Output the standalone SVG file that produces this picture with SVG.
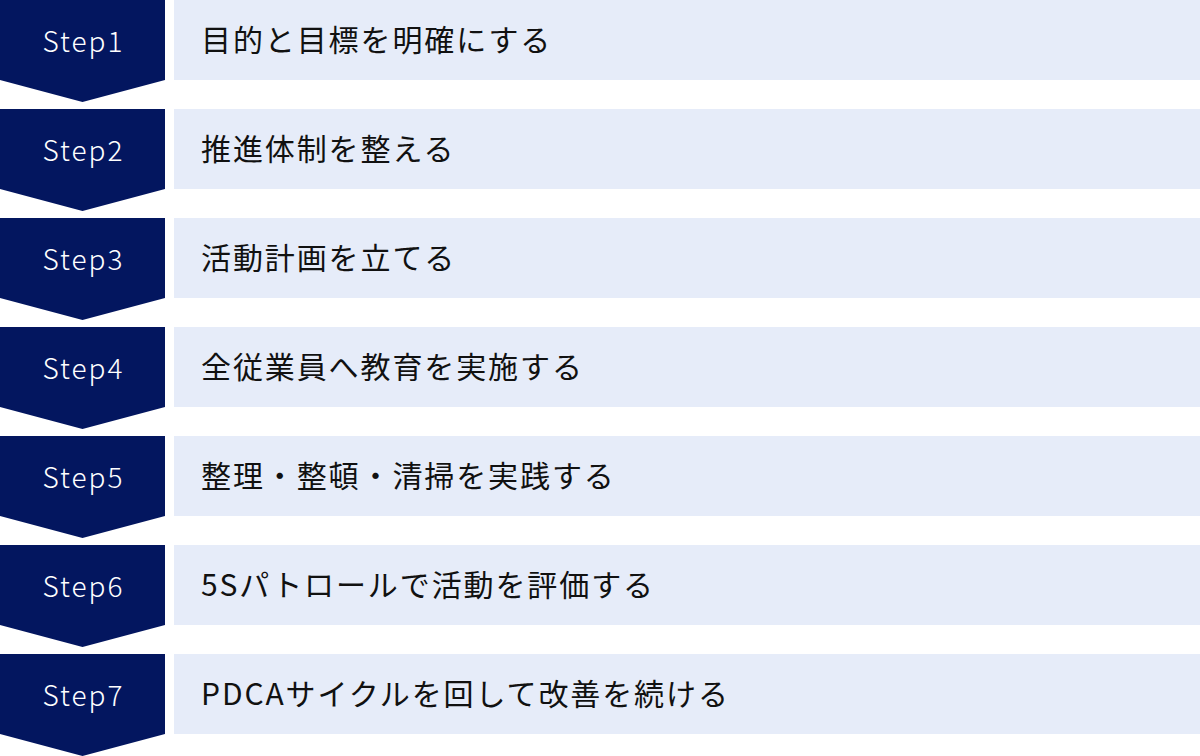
<svg xmlns="http://www.w3.org/2000/svg" width="1200" height="756" viewBox="0 0 1200 756">
<defs>
<style>
.chev{fill:#03165F}
.bar{fill:#E6ECF9}
.step{font-family:"Noto Sans CJK JP","Noto Sans",sans-serif;font-size:28px;font-weight:300;fill:#ffffff;letter-spacing:2px;text-anchor:middle}
.lbl{font-family:"Noto Sans CJK JP","Noto Sans",sans-serif;font-size:30px;fill:#111111;letter-spacing:1.9px}
</style>
<path id="chevShape" class="chev" d="M0,0 H165 V80 L82.5,102 L0,80 Z"/>
</defs>
<g id="connectors"></g>
<g id="step1" transform="translate(0,0)">
<use href="#chevShape"/><rect class="bar" x="174" y="0" width="1026" height="80"/>
<text class="step" x="83.5" y="52">Step1</text>
<text class="lbl" x="201" y="51">目的と目標を明確にする</text>
</g>
<g id="step2" transform="translate(0,109)">
<use href="#chevShape"/><rect class="bar" x="174" y="0" width="1026" height="80"/>
<text class="step" x="83.5" y="52">Step2</text>
<text class="lbl" x="201" y="51">推進体制を整える</text>
</g>
<g id="step3" transform="translate(0,218)">
<use href="#chevShape"/><rect class="bar" x="174" y="0" width="1026" height="80"/>
<text class="step" x="83.5" y="52">Step3</text>
<text class="lbl" x="201" y="51">活動計画を立てる</text>
</g>
<g id="step4" transform="translate(0,327)">
<use href="#chevShape"/><rect class="bar" x="174" y="0" width="1026" height="80"/>
<text class="step" x="83.5" y="52">Step4</text>
<text class="lbl" x="201" y="51">全従業員へ教育を実施する</text>
</g>
<g id="step5" transform="translate(0,436)">
<use href="#chevShape"/><rect class="bar" x="174" y="0" width="1026" height="80"/>
<text class="step" x="83.5" y="52">Step5</text>
<text class="lbl" x="201" y="51">整理・整頓・清掃を実践する</text>
</g>
<g id="step6" transform="translate(0,545)">
<use href="#chevShape"/><rect class="bar" x="174" y="0" width="1026" height="80"/>
<text class="step" x="83.5" y="52">Step6</text>
<text class="lbl" x="201" y="51">5Sパトロールで活動を評価する</text>
</g>
<g id="step7" transform="translate(0,654)">
<use href="#chevShape"/><rect class="bar" x="174" y="0" width="1026" height="80"/>
<text class="step" x="83.5" y="52">Step7</text>
<text class="lbl" x="201" y="51">PDCAサイクルを回して改善を続ける</text>
</g>
</svg>
